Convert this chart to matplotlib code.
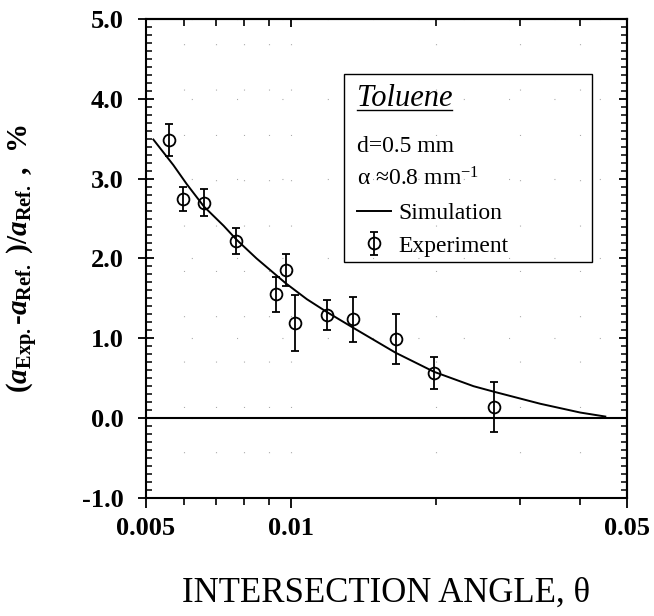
import numpy as np
import matplotlib
matplotlib.use("Agg")
import matplotlib.pyplot as plt
from matplotlib.patches import Rectangle
from matplotlib.ticker import FixedLocator, FixedFormatter, MultipleLocator, NullFormatter

plt.rcParams['font.family'] = 'Liberation Serif'
plt.rcParams['mathtext.fontset'] = 'custom'
plt.rcParams['mathtext.rm'] = 'Liberation Serif'
plt.rcParams['mathtext.it'] = 'Liberation Serif:italic'
plt.rcParams['mathtext.bf'] = 'Liberation Serif:bold'
plt.rcParams['mathtext.bfit'] = 'Liberation Serif:italic:bold'

# measured deviation vs. intersection angle
theta_exp = [0.00557, 0.00596, 0.00660, 0.00770, 0.00931, 0.00976,
             0.01018, 0.01188, 0.01350, 0.01651, 0.01986, 0.02648]
dev_exp = [3.48, 2.75, 2.70, 2.22, 1.55, 1.86,
           1.19, 1.29, 1.24, 0.99, 0.56, 0.14]
dev_err = [0.20, 0.15, 0.17, 0.16, 0.22, 0.20,
           0.35, 0.19, 0.28, 0.31, 0.20, 0.31]

# simulated curve
theta_sim = [0.00518, 0.00570, 0.00608, 0.00660, 0.00725, 0.00770,
             0.00849, 0.00976, 0.01080, 0.01188, 0.01350, 0.01651,
             0.01986, 0.02399, 0.02648, 0.03302, 0.03998, 0.04507]
dev_sim = [3.49, 3.17, 2.93, 2.65, 2.41, 2.24,
           2.00, 1.69, 1.49, 1.33, 1.13, 0.82,
           0.58, 0.40, 0.33, 0.18, 0.07, 0.02]

x_major = [0.005, 0.01, 0.05]
x_major_labels = ['0.005', '0.01', '0.05']
x_minor = [0.006, 0.007, 0.008, 0.009, 0.02, 0.03, 0.04]
y_major = [-1, 0, 1, 2, 3, 4, 5]
y_major_labels = ['-1.0', '0.0', '1.0', '2.0', '3.0', '4.0', '5.0']

fig = plt.figure(figsize=(6.54, 6.16), dpi=100)
ax = fig.add_axes([0.2232, 0.1916, 0.7355, 0.7776])
ax.set_xscale('log')
ax.set_xlim(0.005, 0.05)
ax.set_ylim(-1, 5)

# sparse dotted grid
for xv in x_major + x_minor:
    ax.axvline(xv, color='#999999', lw=0.8, ls=(0, (0.8, 40)), zorder=0)
for yv in y_major:
    ax.axhline(yv, color='#999999', lw=0.8, ls=(0, (0.8, 40)), zorder=0)

ax.axhline(0, color='k', lw=1.5, zorder=2)
sim_line, = ax.plot(theta_sim, dev_sim, color='k', lw=1.4, zorder=3)
eb = ax.errorbar(theta_exp, dev_exp, yerr=dev_err, fmt='o', mfc='none',
                 mec='k', mew=1.3, ms=8.5, ecolor='k', elinewidth=1.3,
                 capsize=2.8, capthick=1.3, zorder=4)

for s in ax.spines.values():
    s.set_linewidth(1.5)

ax.xaxis.set_major_locator(FixedLocator(x_major))
ax.xaxis.set_major_formatter(FixedFormatter(x_major_labels))
ax.xaxis.set_minor_locator(FixedLocator(x_minor))
ax.xaxis.set_minor_formatter(NullFormatter())
ax.yaxis.set_major_locator(FixedLocator(y_major))
ax.yaxis.set_major_formatter(FixedFormatter(y_major_labels))
ax.yaxis.set_minor_locator(MultipleLocator(0.1))

ax.tick_params(axis='x', which='major', direction='out', length=7, width=1.3,
               pad=7, labelsize=19)
ax.tick_params(axis='x', which='minor', direction='out', length=5, width=1.2)
ax.tick_params(axis='y', which='major', direction='inout', length=12, width=1.3,
               pad=10, labelsize=19)
ax.tick_params(axis='y', which='minor', direction='in', length=4, width=1.1)
for lab in ax.get_xticklabels() + ax.get_yticklabels():
    lab.set_fontweight('bold')

# inward ticks on the top and right frame
top = ax.secondary_xaxis('top')
top.xaxis.set_major_locator(FixedLocator(x_major))
top.xaxis.set_minor_locator(FixedLocator(x_minor))
top.xaxis.set_major_formatter(NullFormatter())
top.xaxis.set_minor_formatter(NullFormatter())
top.tick_params(which='major', direction='in', length=6, width=1.3)
top.tick_params(which='minor', direction='in', length=5, width=1.2)
top.spines['top'].set_linewidth(1.5)

right = ax.secondary_yaxis('right')
right.yaxis.set_major_locator(FixedLocator(y_major))
right.yaxis.set_minor_locator(MultipleLocator(0.1))
right.yaxis.set_major_formatter(NullFormatter())
right.tick_params(which='major', direction='in', length=6, width=1.3)
right.tick_params(which='minor', direction='in', length=4, width=1.1)
right.spines['right'].set_linewidth(1.5)

ax.set_xlabel('INTERSECTION ANGLE, θ', fontsize=25, labelpad=26)
ax.set_ylabel(r'($\mathbfit{a}_{\mathbf{Exp.}}$-$\mathbfit{a}_{\mathbf{Ref.}}$ )/'
              r'$\mathbfit{a}_{\mathbf{Ref.}}$ ,  %', fontsize=21,
              fontweight='bold', labelpad=30)

# legend box
ax.add_patch(Rectangle((0.4126, 0.4918), 0.5144, 0.3927, transform=ax.transAxes,
                       fill=False, ec='k', lw=1.0, zorder=5))
title = ax.text(0.438, 0.8174, 'Toluene', transform=ax.transAxes, fontsize=22,
                style='italic', va='baseline', zorder=6)
ax.text(0.438, 0.7228, 'd=0.5 mm', transform=ax.transAxes, fontsize=17,
        va='baseline', zorder=6)
ax.text(0.438, 0.652, 'α ≈0.8 mm$^{-1}$', transform=ax.transAxes, fontsize=17,
        va='baseline', zorder=6)
ax.legend([sim_line, eb], ['Simulation', 'Experiment'], loc='upper left',
          bbox_to_anchor=(0.438, 0.617), frameon=False, fontsize=17,
          handlelength=1.45, handletextpad=0.3, labelspacing=0.47,
          borderpad=0, borderaxespad=0)

# underline the title
fig.canvas.draw()
bb = title.get_window_extent().transformed(ax.transAxes.inverted())
ax.plot([bb.x0, bb.x1], [0.8174 - 0.008, 0.8174 - 0.008], transform=ax.transAxes,
        color='k', lw=1.0, zorder=6)

fig.savefig('out.png', dpi=100)
